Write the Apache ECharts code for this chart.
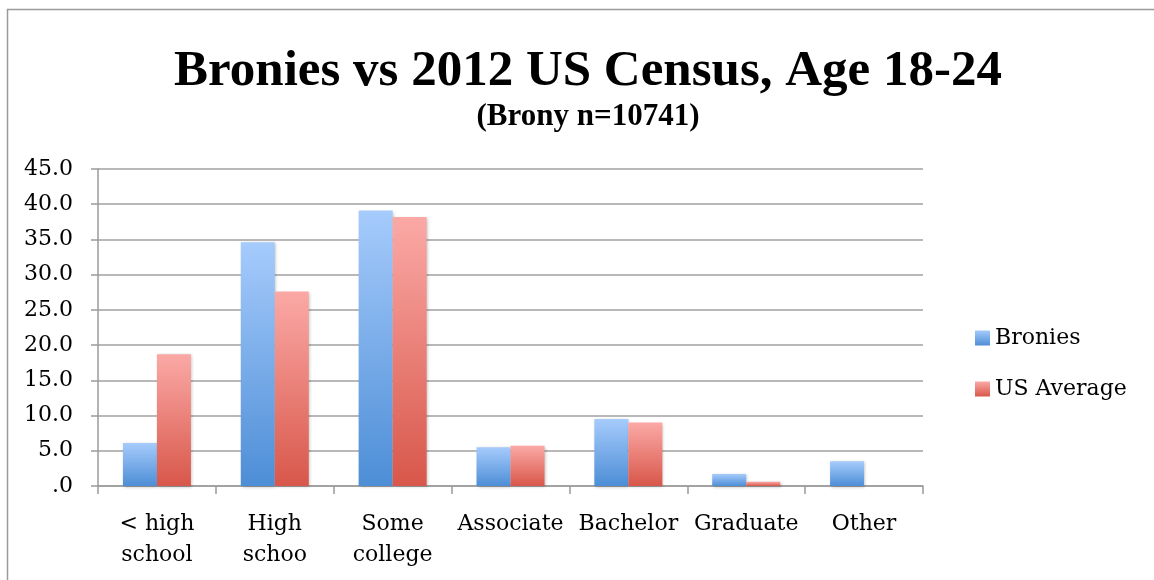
<!DOCTYPE html>
<html>
<head>
<meta charset="utf-8">
<script src="https://cdn.jsdelivr.net/npm/echarts@6/dist/echarts.min.js"></script>
<style>
  html, body { margin: 0; padding: 0; background: #fff; }
  #chart { width: 1154px; height: 580px; }
</style>
</head>
<body>
<div id="chart"></div>
<script>
// 类别与数据
const categories = ['< high\nschool', 'High\nschoo', 'Some\ncollege', 'Associate', 'Bachelor', 'Graduate', 'Other'];
const bronies = [6.1, 34.6, 39.1, 5.5, 9.5, 1.7, 3.5];
const usAverage = [18.7, 27.6, 38.2, 5.7, 9.0, 0.6, 0];

const TITLE_FONT = '"Liberation Serif", "DejaVu Serif", serif';
const FONT = '"DejaVu Serif", "Liberation Serif", serif';

const grad = (top, bottom) => new echarts.graphic.LinearGradient(0, 0, 0, 1, [
  { offset: 0, color: top },
  { offset: 1, color: bottom }
]);

const blue = grad('#a6cbfc', '#4d8ed6');
const red = grad('#fba9a6', '#d8574a');

const drawEcharts = (option, id) => {
  let dom = document.getElementById(id)
  let echart = echarts.init(dom)
  option && echart.setOption(option)
  window.addEventListener('resize', function () {
    echart.resize()
  })
}

const option = {
  backgroundColor: '#fff',
  animation: false,
  title: [
    {
      text: 'Bronies vs 2012 US Census, Age 18-24',
      left: 583, top: 41, textAlign: 'center',
      textStyle: { fontFamily: TITLE_FONT, fontWeight: 'bold', fontSize: 51, color: '#000' }
    },
    {
      text: '(Brony n=10741)',
      left: 583, top: 96, textAlign: 'center',
      textStyle: { fontFamily: TITLE_FONT, fontWeight: 'bold', fontSize: 31, color: '#000' }
    }
  ],
  graphic: [{
    type: 'polyline',
    shape: { points: [[7.5, 580], [7.5, 9.5], [1154, 9.5]] },
    style: { stroke: '#9a9a9a', lineWidth: 1.5, fill: null }
  }],
  legend: {
    orient: 'vertical',
    left: 970, top: 322,
    itemWidth: 15, itemHeight: 15,
    itemGap: 29,
    icon: 'rect',
    textStyle: { fontFamily: FONT, fontSize: 22, color: '#000' },
    data: ['Bronies', 'US Average']
  },
  grid: { left: 98, right: 231, top: 169, bottom: 94, containLabel: false },
  xAxis: {
    type: 'category',
    data: categories,
    axisLine: { lineStyle: { color: '#9a9a9a', width: 1.5 } },
    axisTick: { show: true, length: 8, lineStyle: { color: '#9a9a9a', width: 1.5 } },
    axisLabel: {
      fontFamily: FONT, fontSize: 22, color: '#000', margin: 23,
      lineHeight: 31, interval: 0
    }
  },
  yAxis: {
    type: 'value',
    min: 0, max: 45, interval: 5,
    axisLine: { show: true, lineStyle: { color: '#9a9a9a', width: 1.5 } },
    axisTick: { show: true, length: 7, lineStyle: { color: '#9a9a9a', width: 1.5 } },
    splitLine: { lineStyle: { color: '#a0a0a0', width: 1.5 } },
    axisLabel: {
      fontFamily: FONT, fontSize: 22, color: '#000', margin: 25,
      formatter: v => v === 0 ? '.0' : v.toFixed(1)
    }
  },
  series: [
    {
      name: 'Bronies', type: 'bar', data: bronies,
      barWidth: 34, barGap: '0%',
      itemStyle: { color: blue, shadowColor: 'rgba(0,0,0,0.25)', shadowBlur: 3, shadowOffsetX: 1, shadowOffsetY: 1 }
    },
    {
      name: 'US Average', type: 'bar', data: usAverage,
      barWidth: 34, barGap: '0%',
      itemStyle: { color: red, shadowColor: 'rgba(0,0,0,0.25)', shadowBlur: 3, shadowOffsetX: 1, shadowOffsetY: 1 }
    }
  ]
}

drawEcharts(option, 'chart')
</script>
</body>
</html>
